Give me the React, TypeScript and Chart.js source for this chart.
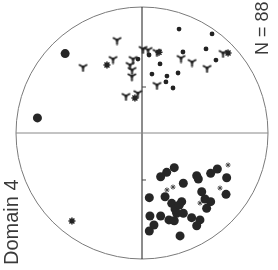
import React, { useEffect, useRef } from "react";
import { Chart, registerables } from "chart.js";

Chart.register(...registerables);

type P = { x: number; y: number };

const largeDots: P[] = [
  { x: -0.61, y: 0.63 }, { x: -0.83, y: 0.12 },
  { x: 0.256, y: -0.275 }, { x: 0.196, y: -0.312 }, { x: 0.148, y: -0.347 },
  { x: 0.434, y: -0.339 }, { x: 0.447, y: -0.365 }, { x: 0.545, y: -0.32 },
  { x: 0.598, y: -0.286 }, { x: 0.672, y: -0.355 }, { x: 0.328, y: -0.399 },
  { x: 0.058, y: -0.513 }, { x: 0.183, y: -0.506 }, { x: 0.236, y: -0.558 },
  { x: 0.315, y: -0.545 }, { x: 0.474, y: -0.466 }, { x: 0.5, y: -0.524 },
  { x: 0.545, y: -0.545 }, { x: 0.513, y: -0.598 }, { x: 0.667, y: -0.487 },
  { x: 0.275, y: -0.637 }, { x: 0.328, y: -0.637 }, { x: 0.063, y: -0.659 },
  { x: 0.148, y: -0.659 }, { x: 0.214, y: -0.69 }, { x: 0.256, y: -0.696 },
  { x: 0.394, y: -0.672 }, { x: 0.46, y: -0.69 }, { x: 0.434, y: -0.736 },
  { x: 0.095, y: -0.73 }, { x: 0.058, y: -0.778 }, { x: 0.302, y: -0.817 },
  { x: 0.262, y: -0.603 }, { x: 0.296, y: -0.571 },
];

const smallDots: P[] = [
  { x: 0.294, y: 0.825 }, { x: 0.556, y: 0.786 }, { x: 0.325, y: 0.643 },
  { x: 0.508, y: 0.667 }, { x: 0.587, y: 0.579 }, { x: 0.056, y: 0.619 },
  { x: 0.143, y: 0.548 }, { x: 0.079, y: 0.468 }, { x: 0.198, y: 0.452 },
  { x: 0.286, y: 0.476 }, { x: 0.19, y: 0.405 }, { x: 0.246, y: 0.357 },
  { x: -0.032, y: 0.587 },
];

const triStars: P[] = [
  { x: -0.198, y: 0.738 }, { x: -0.468, y: 0.524 }, { x: -0.23, y: 0.587 },
  { x: -0.095, y: 0.54 }, { x: -0.079, y: 0.5 }, { x: -0.071, y: 0.587 },
  { x: -0.127, y: 0.294 }, { x: -0.033, y: 0.316 }, { x: 0.008, y: 0.667 },
  { x: 0.048, y: 0.659 }, { x: 0.119, y: 0.643 }, { x: 0.31, y: 0.595 },
  { x: 0.397, y: 0.563 }, { x: 0.516, y: 0.516 }, { x: 0.643, y: 0.635 },
  { x: 0.119, y: 0.381 }, { x: -0.08, y: 0.45 },
];

const asterisks: P[] = [
  { x: -0.278, y: 0.54 }, { x: -0.056, y: 0.278 }, { x: 0.683, y: 0.635 },
  { x: -0.556, y: -0.698 }, { x: 0.135, y: 0.64 },
];

const crosses: P[] = [
  { x: 0.683, y: -0.254 }, { x: 0.246, y: -0.429 }, { x: 0.198, y: -0.452 },
  { x: 0.46, y: -0.556 }, { x: 0.619, y: -0.437 },
];

const axisTicks: number[] = [0.365, -0.373];
const countLabel = "N = 88";
const domainLabel = "Domain 4";

function makeTriStar(): HTMLCanvasElement {
  const c = document.createElement("canvas");
  c.width = 11;
  c.height = 11;
  const g = c.getContext("2d")!;
  g.strokeStyle = "#222";
  g.lineWidth = 2;
  g.lineCap = "round";
  const cx = 5.5, cy = 5.5, r = 4;
  g.beginPath();
  [-150, -30, 90].forEach((a) => {
    const t = (a * Math.PI) / 180;
    g.moveTo(cx, cy);
    g.lineTo(cx + r * Math.cos(t), cy + r * Math.sin(t));
  });
  g.stroke();
  g.fillStyle = "#222";
  g.beginPath();
  g.arc(cx, cy, 1.5, 0, Math.PI * 2);
  g.fill();
  return c;
}

const netPlugin = {
  id: "net",
  beforeDatasetsDraw(chart: any) {
    const { ctx, scales } = chart;
    const sx = scales.x, sy = scales.y;
    const cx = sx.getPixelForValue(0), cy = sy.getPixelForValue(0);
    const r = sx.getPixelForValue(1) - cx;
    ctx.save();
    ctx.strokeStyle = "#7a7a7a";
    ctx.lineWidth = 1;
    ctx.beginPath();
    ctx.arc(cx, cy, r, 0, Math.PI * 2);
    ctx.stroke();
    ctx.strokeStyle = "#1a1a1a";
    ctx.beginPath();
    ctx.moveTo(cx, sy.getPixelForValue(1));
    ctx.lineTo(cx, sy.getPixelForValue(-1));
    ctx.stroke();
    ctx.strokeStyle = "#888";
    ctx.beginPath();
    ctx.moveTo(sx.getPixelForValue(-1), cy);
    ctx.lineTo(sx.getPixelForValue(1), cy);
    ctx.stroke();
    ctx.strokeStyle = "#444";
    axisTicks.forEach((v) => {
      const py = sy.getPixelForValue(v);
      ctx.beginPath();
      ctx.moveTo(cx, py);
      ctx.lineTo(cx + 4, py);
      ctx.stroke();
    });
    ctx.restore();
  },
  afterDraw(chart: any) {
    const { ctx } = chart;
    ctx.save();
    ctx.fillStyle = "#3a3a3a";
    ctx.font = "18px Arial, 'Liberation Sans', sans-serif";
    ctx.textAlign = "left";
    ctx.textBaseline = "alphabetic";
    ctx.translate(268, 55);
    ctx.rotate(-Math.PI / 2);
    ctx.fillText(countLabel, 0, 0);
    ctx.restore();
    ctx.save();
    ctx.fillStyle = "#3a3a3a";
    ctx.font = "20px Arial, 'Liberation Sans', sans-serif";
    ctx.textAlign = "left";
    ctx.textBaseline = "alphabetic";
    ctx.translate(18, 265);
    ctx.rotate(-Math.PI / 2);
    ctx.fillText(domainLabel, 0, 0);
    ctx.restore();
  },
};

export default function App() {
  const ref = useRef<HTMLCanvasElement | null>(null);
  useEffect(() => {
    if (!ref.current) return;
    const tri = makeTriStar();
    const chart = new Chart(ref.current, {
      type: "scatter",
      data: {
        datasets: [
          {
            data: largeDots,
            pointStyle: "circle",
            pointRadius: 4.5,
            backgroundColor: "#262626",
            borderColor: "#262626",
            borderWidth: 0,
          },
          {
            data: smallDots,
            pointStyle: "circle",
            pointRadius: 2.4,
            backgroundColor: "#222",
            borderColor: "#222",
            borderWidth: 0,
          },
          {
            data: triStars,
            pointStyle: tri as any,
            pointRadius: 5,
          },
          {
            data: asterisks,
            pointStyle: "star",
            pointRadius: 3.5,
            borderColor: "#222",
            borderWidth: 1.5,
            backgroundColor: "#222",
          },
          {
            data: crosses,
            pointStyle: "star",
            pointRadius: 2.5,
            borderColor: "#444",
            borderWidth: 1,
            backgroundColor: "#444",
          },
        ],
      },
      options: {
        animation: false,
        responsive: false,
        maintainAspectRatio: false,
        layout: { padding: { left: 16, right: 10, top: 7, bottom: 11 } },
        plugins: { legend: { display: false }, tooltip: { enabled: false } },
        scales: {
          x: { type: "linear", min: -1, max: 1, display: false },
          y: { type: "linear", min: -1, max: 1, display: false },
        },
      },
      plugins: [netPlugin],
    });
    return () => chart.destroy();
  }, []);
  return (
    <div style={{ position: "fixed", left: 0, top: 0, width: 278, height: 270, background: "#fff" }}>
      <canvas ref={ref} width={278} height={270} style={{ display: "block", width: 278, height: 270 }} />
    </div>
  );
}
